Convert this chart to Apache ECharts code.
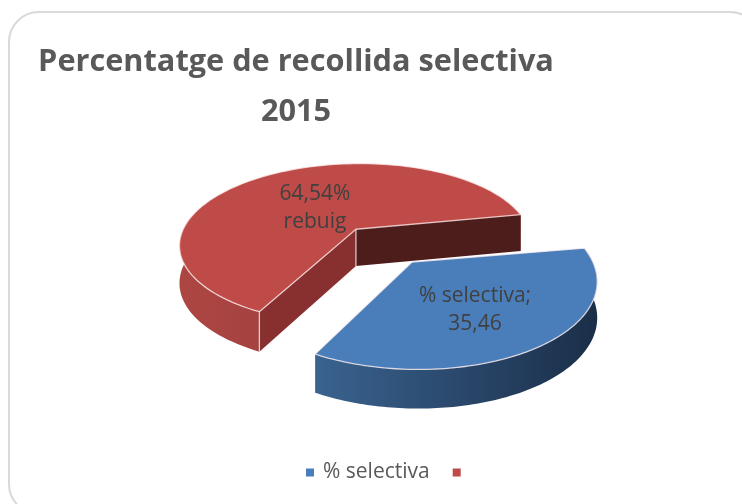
<!DOCTYPE html>
<html><head><meta charset="utf-8">
<style>html,body{margin:0;padding:0;background:#fff}#c{width:742px;height:504px;filter:blur(0.4px)}</style>
<script src="https://cdn.jsdelivr.net/npm/echarts@6/dist/echarts.min.js"></script>
</head><body><div id="c"></div>
<script>
const categories = ['% selectiva', ' '];
const values = [35.46, 64.54];
const dataLabels = ['% selectiva;\n35,46', '64,54%\nrebuig'];
const titleLines = 'Percentatge de recollida selectiva\n2015';

const FONT = '"Open Sans", sans-serif';
const total = values.reduce((a, b) => a + b, 0);
const view = {x0: 383, y0: 245, R: 174, q: 0.465, p: 0.18, d: 0.26, start: -10.5};
const styles = [
  {top: '#4A7EBB', wall: ['#3A6390', '#1A2E48'], labelAt: [475, 310], rf: 1, dx: 1, dy: -0.5, depth: 35, rot: 1.1},
  {top: '#BE4B48', wall: ['#AC4643', '#8E3735'], side1: '#87302F', side2: '#4D1D1B', labelAt: [315, 208], rf: 1.03, dx: -1, dy: 0.5, depth: 37.5, rot: -0.7}
];
const rad = a => a * Math.PI / 180;
function project(U, V, dx, dy) {
  const s = 1 / (1 - view.p * V);
  return {x: view.x0 + dx + view.R * U * s, y: view.y0 + dy + view.R * view.q * V * s, s};
}
function sliceRange(i) {
  let a = view.start;
  for (let k = 0; k < i; k++) a += values[k] / total * 360;
  return [a, a + values[i] / total * 360];
}
function renderSlice(i) {
  const st = styles[i];
  const [a0, a1] = sliceRange(i).map(a => a + st.rot);
  const r0 = sliceRange(0);
  const blueMid = rad((r0[0] + r0[1]) / 2);
  const sign = i === 0 ? 1 : -1;
  const cu = sign * view.d * Math.cos(blueMid), cv = sign * view.d * Math.sin(blueMid);
  const at = a => project(cu + st.rf * Math.cos(rad(a)), cv + st.rf * Math.sin(rad(a)), st.dx, st.dy);
  const down = pt => [pt.x, pt.y + st.depth * Math.pow(pt.s, 0.45)];
  const apex = project(cu, cv, st.dx, st.dy);
  const steps = 120;
  const angles = [];
  for (let k = 0; k <= steps; k++) angles.push(a0 + (a1 - a0) * k / steps);
  const arc = angles.map(at);
  const edge = 'rgba(255,240,240,0.75)';
  const kids = [];
  const poly = (points, fill, z, stroke) => ({
    type: 'polygon', z2: z, shape: {points},
    style: {fill, stroke: stroke || 'none', lineWidth: stroke ? 1.3 : 0, lineJoin: 'round'}
  });
  const frontRim = arc.filter((p, k) => {
    const n = (angles[k] % 360 + 360) % 360;
    return n <= 190 || n >= 340;
  });
  const xs = frontRim.map(p => p.x);
  const pts = frontRim.map(p => [p.x, p.y]).concat(frontRim.slice().reverse().map(down));
  kids.push(poly(pts, {
    type: 'linear', x: Math.min(...xs), y: 0, x2: Math.max(...xs), y2: 0, global: true,
    colorStops: [{offset: 0, color: st.wall[0]}, {offset: 1, color: st.wall[1]}]
  }, 1));
  if (i === 1) {
    const first = arc[0], last = arc[arc.length - 1];
    kids.push(poly([[apex.x, apex.y], [last.x, last.y], down(last), down(apex)], st.side2, 2));
    kids.push(poly([[apex.x, apex.y], [first.x, first.y], down(first), down(apex)], st.side1, 3));
    kids.push({type: 'line', z2: 5, shape: {x1: first.x, y1: first.y, x2: down(first)[0], y2: down(first)[1]}, style: {stroke: edge, lineWidth: 1.3}});
    kids.push({type: 'line', z2: 5, shape: {x1: apex.x, y1: apex.y, x2: down(apex)[0], y2: down(apex)[1]}, style: {stroke: edge, lineWidth: 1.3}});
  }
  kids.push(poly([[apex.x, apex.y]].concat(arc.map(p => [p.x, p.y])), st.top, 4, edge));
  kids.push({
    type: 'text', z2: 10, style: {
      x: st.labelAt[0], y: st.labelAt[1], text: dataLabels[i], fill: '#404040',
      font: '21px ' + FONT, align: 'center', verticalAlign: 'middle', lineHeight: 28
    }
  });
  return {type: 'group', children: kids};
}
const series = categories.map((name, i) => ({
  type: 'custom', name, coordinateSystem: 'none', silent: true,
  z: i === 0 ? 3 : 2, animation: false,
  itemStyle: {color: styles[i].top},
  data: [[values[i]]],
  renderItem: () => renderSlice(i)
}));
const chart = echarts.init(document.getElementById('c'), null, {renderer: 'canvas'});
chart.setOption({
  animation: false,
  backgroundColor: '#fff',
  title: {
    text: titleLines, left: 291, top: 32, textAlign: 'center',
    textStyle: {fontFamily: FONT, fontWeight: 'bold', fontSize: 30.7, lineHeight: 50, color: '#595959'}
  },
  legend: {
    data: categories, left: 301, top: 457, icon: 'rect', itemWidth: 8, itemHeight: 8, itemGap: 23,
    textStyle: {fontFamily: FONT, fontSize: 21, color: '#595959', padding: [0, 0, 0, 4]}
  },
  graphic: [{
    type: 'rect', z: -1, shape: {x: 9, y: 12, width: 751, height: 502, r: 30},
    style: {fill: '#fff', stroke: '#D9D9D9', lineWidth: 2}
  }],
  series
});
</script></body></html>
